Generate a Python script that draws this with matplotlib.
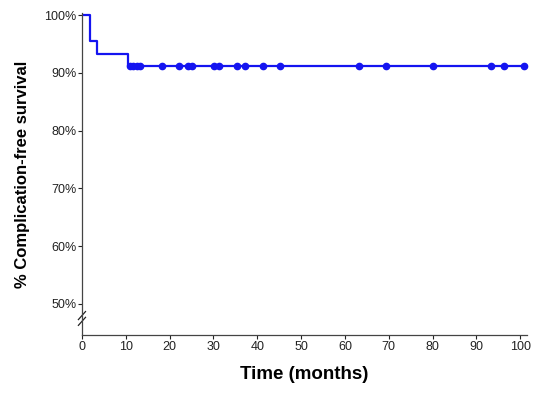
import matplotlib.pyplot as plt
import numpy as np

# Kaplan-Meier step curve (event times and survival after each event, %)
event_times = [0, 1.8, 3.4, 10.5]
survival = [100, 95.5, 93.2, 91.2]
# censored observations (months)
censor_times = [11.0, 11.6, 12.6, 13.2, 18.3, 22.2, 24.2, 25.2, 30.1, 31.3,
                35.4, 37.2, 41.3, 45.2, 63.2, 69.4, 80.1, 93.2, 96.3, 100.8]
end_time = 100.8

yticks = [50, 60, 70, 80, 90, 100]
xticks = [0, 10, 20, 30, 40, 50, 60, 70, 80, 90, 100]

plt.rcParams['font.family'] = ['Liberation Sans', 'DejaVu Sans']

fig = plt.figure(figsize=(5.5, 3.96), dpi=100)
ax = fig.add_axes([0.149, 0.154, 0.809, 0.812])

blue = '#1414F0'
# build the step curve
xs = event_times + [end_time]
ys = survival + [survival[-1]]
ax.step(xs, ys, where='post', color=blue, lw=1.6)

# censor marks sit on the curve
idx = np.searchsorted(event_times, censor_times, side='right') - 1
cy = [survival[i] for i in idx]
ax.plot(censor_times, cy, 'o', color=blue, ms=4.5, clip_on=False)

ax.set_xlim(0, 101.5)
ax.set_ylim(44.6, 100.3)
ax.set_xticks(xticks)
ax.set_yticks(yticks)
ax.set_yticklabels([f"{t}%" for t in yticks])
ax.tick_params(labelsize=9, length=3, width=0.8, colors='#222222', pad=1)

for s in ['top', 'right']:
    ax.spines[s].set_visible(False)
for s in ['left', 'bottom']:
    ax.spines[s].set_linewidth(0.9)
    ax.spines[s].set_color('#444444')

# axis break marks on y axis
for off in [0.0, 0.018]:
    ax.plot([-0.008, 0.008], [0.03 + off, 0.055 + off], transform=ax.transAxes,
            color='#222222', lw=0.9, clip_on=False)

ax.set_xlabel('Time (months)', fontsize=13.5, fontweight='bold', labelpad=10)
ax.set_ylabel('% Complication-free survival', fontsize=12, fontweight='bold', labelpad=10)

fig.savefig('out.png', dpi=100)
